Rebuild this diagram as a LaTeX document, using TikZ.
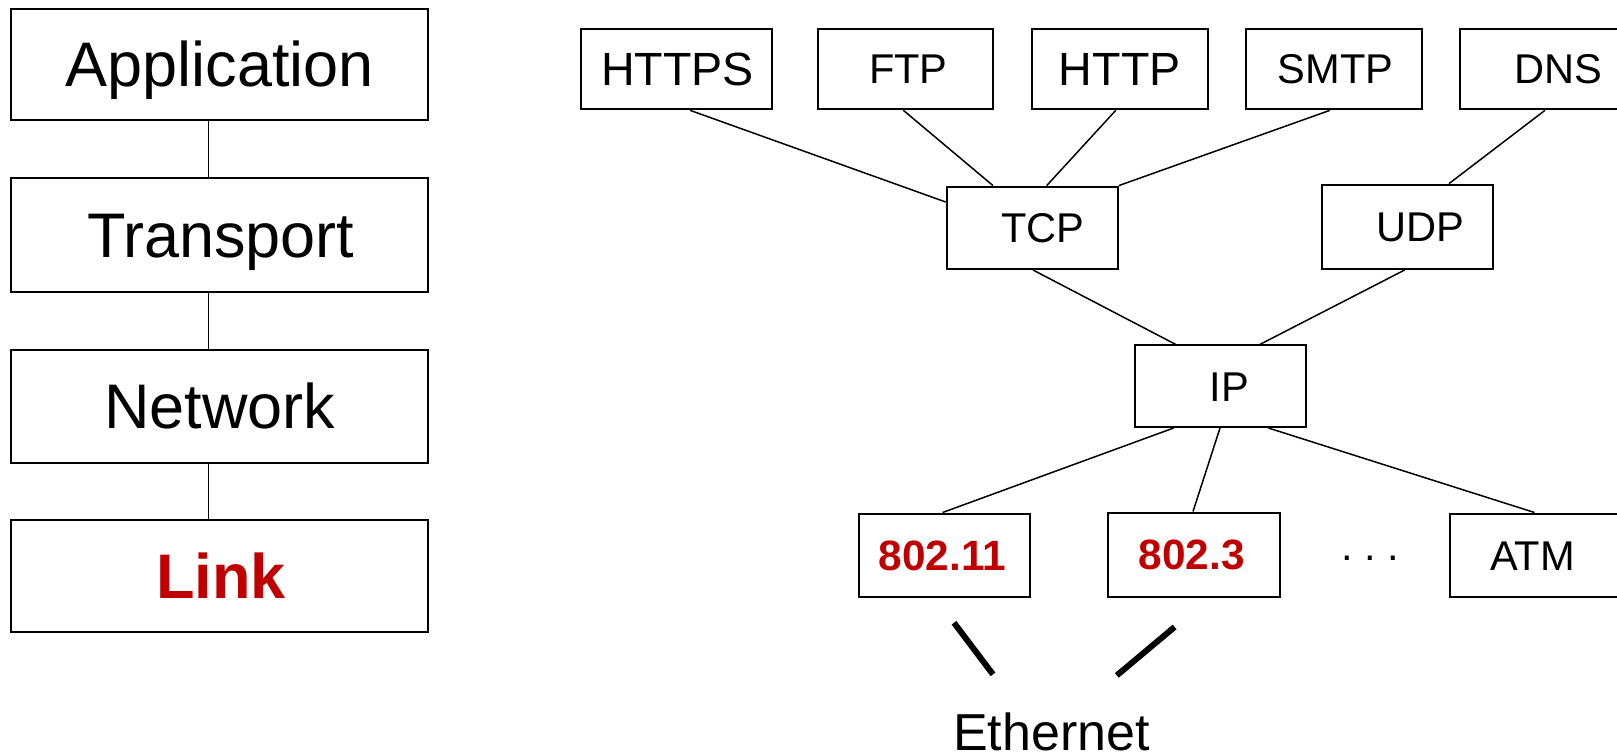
\documentclass[tikz,border=0pt]{standalone}
\usepackage{fontspec}
\setmainfont{Liberation Sans}
\usetikzlibrary{calc}
\definecolor{linkred}{RGB}{192,0,0}
\begin{document}
\begin{tikzpicture}[x=0.5pt,y=-0.5pt,
  box/.style={draw, line width=1pt, inner sep=0pt, anchor=north west, text depth=0pt},
  bx/.style n args={4}{at={(#1,#2)}, minimum width={(#3-#1)*0.5pt}, minimum height={(#4-#2)*0.5pt}},
  big/.style={font=\fontsize{31.5}{36}\selectfont, text height=22.5pt},
  mid/.style={font=\fontsize{23.3}{28}\selectfont, text height=16.7pt},
  sml/.style={font=\fontsize{20.8}{25}\selectfont, text height=14.9pt},
  red/.style={text=linkred, font=\fontsize{21.2}{25}\selectfont\bfseries, text height=15.2pt},
  conn/.style={line width=0.75pt},
  thick/.style={line width=3pt}
]
\useasboundingbox (0,0) rectangle (1617,755);
% left column
\node[box, big, bx={10.3}{8.3}{427}{118.6}] (app) {Application};
\node[box, big, bx={10.3}{177.4}{427}{290.8}] (trans) {\hspace*{1pt}Transport};
\node[box, big, bx={10.3}{348.6}{427}{462}] (net) {Network};
\node[box, big, bx={10.3}{518.7}{427}{631.1}, text=linkred, font=\fontsize{31.5}{36}\selectfont\bfseries] (link) {\hspace*{1.5pt}Link};
\draw[conn] ([xshift=-5.7pt]app.south) -- ([xshift=-5.7pt]trans.north);
\draw[conn] ([xshift=-5.7pt]trans.south) -- ([xshift=-5.7pt]net.north);
\draw[conn] ([xshift=-5.7pt]net.south) -- ([xshift=-5.7pt]link.north);
% top row
\node[box, mid, bx={579.6}{27.8}{771.4}{108.3}] (https) {\hspace*{1pt}HTTPS};
\node[box, sml, bx={816.75}{27.8}{992}{108.3}] (ftp) {\hspace*{3pt}FTP};
\node[box, mid, bx={1031}{27.8}{1206.6}{108.3}] (http) {HTTP};
\node[box, sml, bx={1244.7}{27.8}{1421}{108.3}] (smtp) {\hspace*{1.6pt}SMTP};
\node[box, sml, bx={1459}{27.8}{1650}{108.3}] (dns) {\hspace*{2.5pt}DNS};
% transport
\node[box, sml, bx={945.7}{185.6}{1116.8}{268}] (tcp) {\hspace*{10.6pt}TCP};
\node[box, sml, bx={1321}{183.6}{1492}{268}] (udp) {\hspace*{12.5pt}UDP};
% network
\node[box, sml, bx={1134}{344.4}{1304.5}{426}] (ip) {\hspace*{9pt}IP};
% link
\node[box, red, bx={858}{512.5}{1029}{596}] (wifi) {802.11\hspace*{2pt}};
\node[box, red, bx={1106.5}{511.5}{1278.75}{596}] (eth3) {802.3\hspace*{2pt}};
\node[box, sml, bx={1449}{512.5}{1650}{596}] (atm) {ATM\hspace*{18pt}};
\node[sml, anchor=base, inner sep=0pt] (dots) at (1370,560) {.\ .\ .};
\node[font=\fontsize{26}{30}\selectfont, anchor=base, inner sep=0pt] (ether) at (1051.4,750.7) {Ethernet};
% connectors
\draw[conn] ($(https.south west)+(110.4,0)$) -- ($(tcp.north west)+(0,16.4)$);
\draw[conn] ($(ftp.south west)+(86.6,0)$) -- ($(tcp.north west)+(47.3,0)$);
\draw[conn] ($(http.south west)+(84.8,0)$) -- ($(tcp.north west)+(101,0)$);
\draw[conn] ($(smtp.south west)+(85.3,0)$) -- (tcp.north east);
\draw[conn] ($(dns.south west)+(86,0)$) -- ($(udp.north west)+(128,0)$);
\draw[conn] ($(tcp.south west)+(87.3,0)$) -- ($(ip.north west)+(41.6,0)$);
\draw[conn] ($(udp.south west)+(83.6,0)$) -- ($(ip.north west)+(126,0)$);
\draw[conn] ($(ip.south west)+(39.6,0)$) -- ($(wifi.north west)+(84.6,0)$);
\draw[conn] ($(ip.south west)+(86,0)$) -- ($(eth3.north west)+(86.5,0)$);
\draw[conn] ($(ip.south west)+(134.4,0)$) -- ($(atm.north west)+(85.5,0)$);
% ethernet strokes
\draw[thick] ($(wifi.south west)+(96,24.8)$) -- ($(wifi.south west)+(135,76.4)$);
\draw[thick] ($(eth3.south west)+(68.1,29)$) -- ($(eth3.south west)+(10.3,77.4)$);
\end{tikzpicture}
\end{document}
